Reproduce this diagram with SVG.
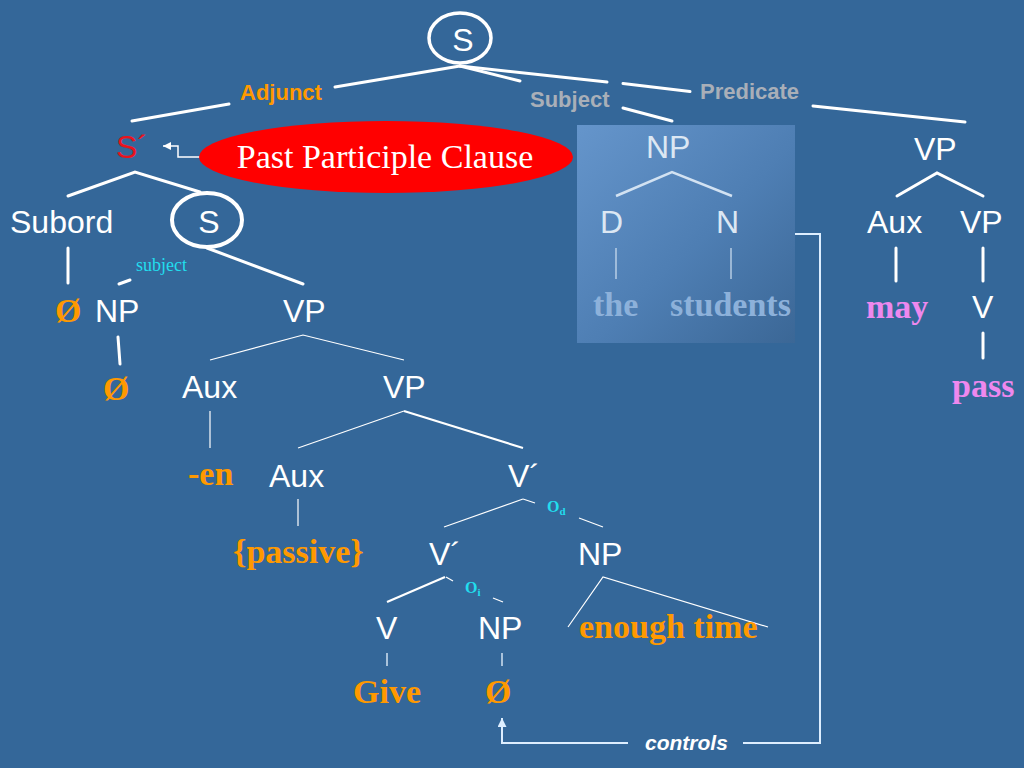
<svg xmlns="http://www.w3.org/2000/svg" width="1024" height="768" viewBox="0 0 1024 768">
<defs>
<style>
.n{font-family:"Liberation Sans",Arial,sans-serif;font-size:32px;fill:#fff}
.nc{font-family:"Liberation Sans",Arial,sans-serif;font-size:32px;fill:#fff;text-anchor:middle}
.b{font-family:"Liberation Serif","Times New Roman",serif;font-weight:bold;font-size:34px}
.or{fill:#FF9900}
.pk{fill:#EE88EE}
.mu{fill:#8DB1DA}
.lbl{font-family:"Liberation Sans",Arial,sans-serif;font-weight:bold;font-size:22px}
.cy{font-family:"Liberation Serif","Times New Roman",serif;fill:#22DDEE}
.k{stroke:#fff;stroke-width:3;fill:none;stroke-linecap:round}
.t{stroke:#fff;stroke-width:1.2;fill:none}
.m{stroke:#fff;stroke-width:2.2;fill:none}
.lb{stroke:#D2E2F2;fill:none}
.ctl{stroke:#DDEEFF;stroke-width:2;fill:none}
</style>
<linearGradient id="boxg" x1="0" y1="0" x2="1" y2="1">
<stop offset="0" stop-color="#6595CB"/>
<stop offset="0.55" stop-color="#4E7EB3"/>
<stop offset="1" stop-color="#3B6796"/>
</linearGradient>
<marker id="ah" viewBox="0 0 10 10" refX="10" refY="5" markerWidth="8" markerHeight="8" markerUnits="userSpaceOnUse" orient="auto">
<path d="M0,0 L10,5 L0,10 z" fill="#fff"/>
</marker>
<marker id="ah2" viewBox="0 0 10 10" refX="10" refY="5" markerWidth="9" markerHeight="9" markerUnits="userSpaceOnUse" orient="auto">
<path d="M0,0 L10,5 L0,10 z" fill="#DDEEFF"/>
</marker>
</defs>
<rect x="0" y="0" width="1024" height="768" fill="#346799"/>

<g id="subject-box">
<rect x="577" y="125" width="218" height="218" fill="url(#boxg)"/>
</g>

<g id="connectors">
<line class="k" x1="460" y1="66" x2="335" y2="87"/>
<line class="k" x1="229" y1="104" x2="132" y2="121"/>
<line class="k" x1="460" y1="66" x2="520" y2="81"/>
<line class="k" x1="623" y1="108" x2="672" y2="121"/>
<line class="k" x1="460" y1="66" x2="607" y2="82"/>
<line class="k" x1="623" y1="83.5" x2="690" y2="91.5"/>
<line class="k" x1="813" y1="106" x2="965" y2="122"/>
<polyline class="k" points="68,196 135,172 200,192"/>
<line class="k" x1="68" y1="248" x2="68" y2="283"/>
<line class="k" x1="119" y1="284" x2="130" y2="280"/>
<line class="k" x1="207" y1="248" x2="303" y2="284"/>
<line class="k" x1="118" y1="337" x2="120" y2="364"/>
<polyline class="t" points="210,360 303,335 404,360"/>
<line class="t" x1="210" y1="411" x2="210" y2="448"/>
<line class="t" x1="298" y1="448" x2="404" y2="411"/>
<line class="m" x1="404" y1="411" x2="523" y2="448"/>
<line class="t" x1="298" y1="499" x2="298" y2="526"/>
<line class="t" x1="444" y1="527" x2="523" y2="499"/>
<line class="t" x1="523" y1="499" x2="535" y2="503"/>
<line class="t" x1="579" y1="518" x2="603" y2="527"/>
<line class="m" x1="387" y1="602" x2="445" y2="577"/>
<line class="t" x1="446" y1="577" x2="453" y2="581"/>
<line class="t" x1="493" y1="598" x2="503" y2="602"/>
<polyline class="t" points="568,627 603,577 768,627"/>
<line class="lb" stroke-width="1.5" x1="387" y1="653" x2="387" y2="666"/>
<line class="lb" stroke-width="1.5" x1="502" y1="653" x2="502" y2="666"/>
<polyline class="lb" stroke-width="2.5" points="616,196 672,172 732,196"/>
<line class="lb" stroke-width="1.2" x1="616" y1="248" x2="616" y2="279"/>
<line class="lb" stroke-width="1.2" x1="731" y1="248" x2="731" y2="279"/>
<polyline class="k" stroke-width="2.5" points="897,196 937,173 983,196"/>
<line class="k" stroke-width="2.5" x1="896" y1="248" x2="896" y2="281"/>
<line class="k" stroke-width="2.5" x1="983" y1="248" x2="983" y2="281"/>
<line class="k" stroke-width="2.5" x1="983" y1="333" x2="983" y2="358"/>
<polyline class="ctl" points="795,234 820,234 820,743 743,743"/>
<polyline class="ctl" points="628,743 502,743 502,718" marker-end="url(#ah2)"/>
<polyline stroke="#fff" stroke-width="1.5" fill="none" points="200,157 178,157 178,146 163,146" marker-end="url(#ah)"/>
<text class="lbl" x="240" y="100" fill="#FF9900">Adjunct</text>
<text class="lbl" x="530" y="107" fill="#A9AFB8">Subject</text>
<text class="lbl" x="700" y="99" fill="#A9AFB8">Predicate</text>
<text class="cy" x="136" y="271" font-size="18">subject</text>
<text class="cy" x="547" y="512" font-size="16" font-weight="bold">O<tspan font-size="11" dy="3">d</tspan></text>
<text class="cy" x="465" y="593" font-size="16" font-weight="bold">O<tspan font-size="11" dy="3">i</tspan></text>
<text x="645" y="750" font-family="Liberation Sans,Arial,sans-serif" font-weight="bold" font-style="italic" font-size="21" fill="#fff">controls</text>
</g>

<g id="node-S-top">
<ellipse cx="460" cy="38" rx="31" ry="25" fill="none" stroke="#fff" stroke-width="3.5"/>
<text class="nc" x="463" y="51">S</text>
</g>
<g id="node-Sbar">
<text class="n" x="116" y="158" style="fill:#E8141E">S´</text>
</g>
<g id="node-clause">
<ellipse cx="386" cy="157" rx="187" ry="36" fill="#FF0000"/>
<text x="385" y="168" font-family="Liberation Serif,Times New Roman,serif" font-size="34" fill="#fff" text-anchor="middle">Past Participle Clause</text>
</g>
<g id="node-Subord"><text class="n" x="10" y="233" font-size="33">Subord</text></g>
<g id="node-S-inner">
<ellipse cx="207" cy="220" rx="35" ry="27" fill="none" stroke="#fff" stroke-width="4"/>
<text class="nc" x="209" y="233">S</text>
</g>
<g id="node-zero1"><text class="b or" x="55" y="322">Ø</text></g>
<g id="node-NP1"><text class="n" x="95" y="322">NP</text></g>
<g id="node-zero2"><text class="b or" x="103" y="400">Ø</text></g>
<g id="node-VP1"><text class="n" x="283" y="322">VP</text></g>
<g id="node-Aux1"><text class="n" x="182" y="398">Aux</text></g>
<g id="node-en"><text class="b or" x="188" y="485">-en</text></g>
<g id="node-VP2"><text class="n" x="383" y="398">VP</text></g>
<g id="node-Aux2"><text class="n" x="269" y="487">Aux</text></g>
<g id="node-passive"><text class="b or" x="233" y="563">{passive}</text></g>
<g id="node-Vbar1"><text class="n" x="508" y="487">V´</text></g>
<g id="node-Vbar2"><text class="n" x="429" y="565">V´</text></g>
<g id="node-NP3"><text class="n" x="578" y="565">NP</text></g>
<g id="node-enough"><text class="b or" x="579" y="638">enough time</text></g>
<g id="node-V1"><text class="n" x="376" y="639">V</text></g>
<g id="node-NP2"><text class="n" x="478" y="639">NP</text></g>
<g id="node-Give"><text class="b or" x="353" y="703">Give</text></g>
<g id="node-zero3"><text class="b or" x="485" y="703">Ø</text></g>
<g id="node-NPsubj"><text class="n" x="646" y="158" style="fill:#DCE7F3">NP</text></g>
<g id="node-D"><text class="n" x="600" y="233" style="fill:#DCE7F3">D</text></g>
<g id="node-N"><text class="n" x="716" y="233" style="fill:#DCE7F3">N</text></g>
<g id="node-the"><text class="b mu" x="593" y="316">the</text></g>
<g id="node-students"><text class="b mu" x="670" y="316">students</text></g>
<g id="node-VP3"><text class="n" x="914" y="160">VP</text></g>
<g id="node-Aux3"><text class="n" x="867" y="233">Aux</text></g>
<g id="node-VP4"><text class="n" x="960" y="233">VP</text></g>
<g id="node-may"><text class="b pk" x="866" y="318">may</text></g>
<g id="node-V2"><text class="n" x="972" y="318">V</text></g>
<g id="node-pass"><text class="b pk" x="952" y="397">pass</text></g>
</svg>
